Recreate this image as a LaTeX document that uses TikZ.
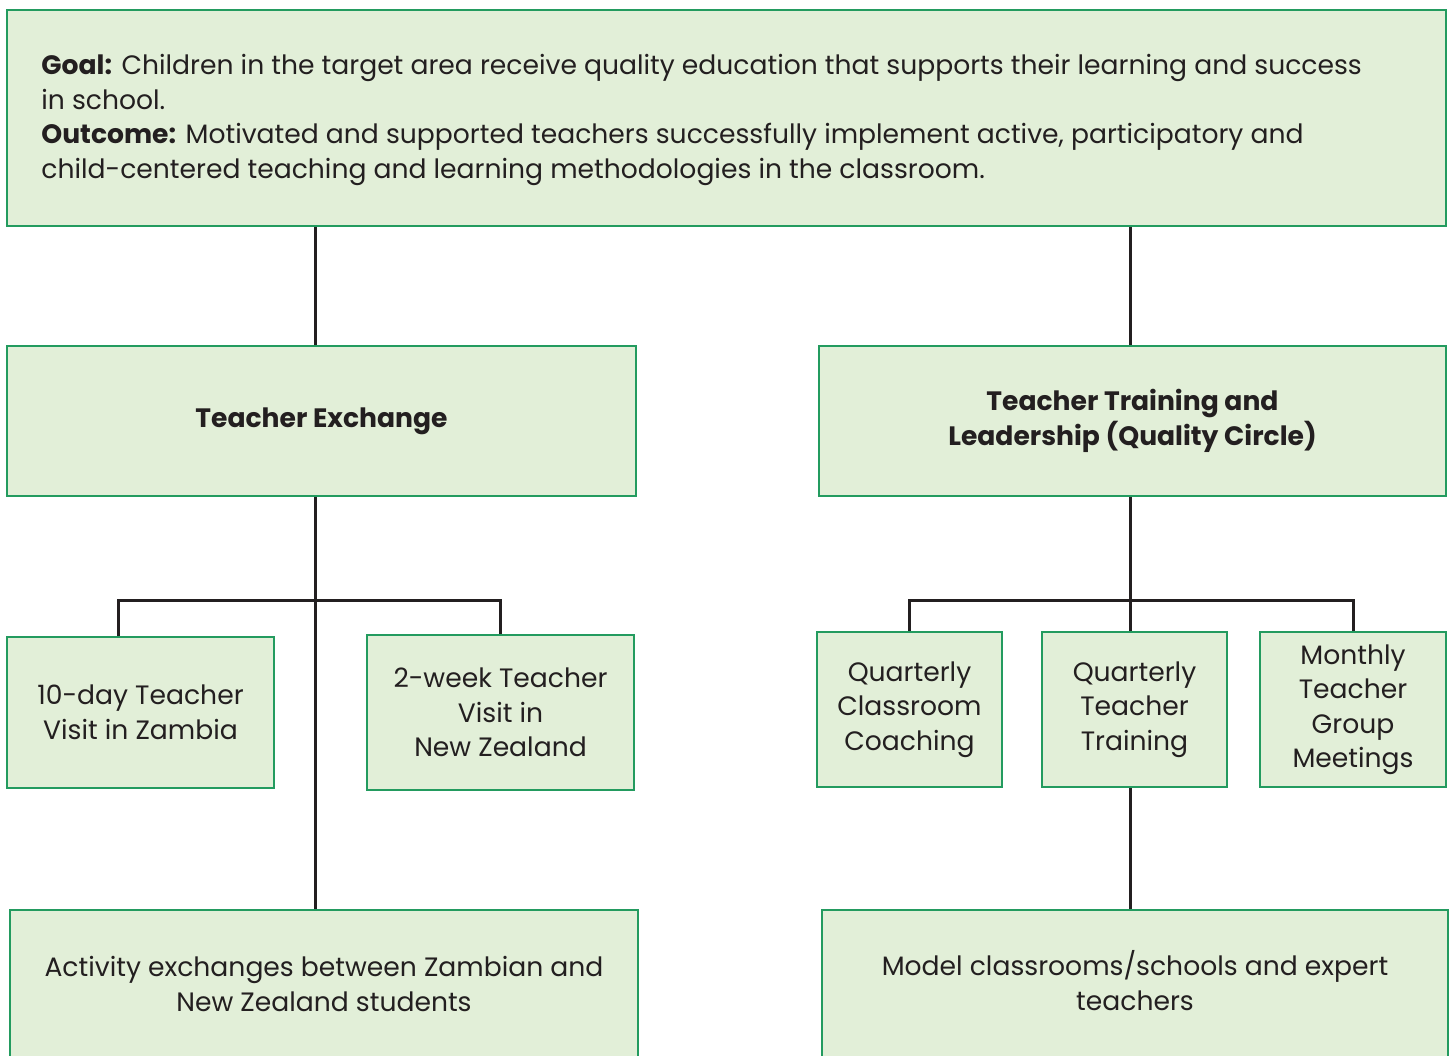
\documentclass[tikz,border=0pt]{standalone}
\usepackage{fontspec}
\setmainfont{Poppins}
\usepackage{tikz}
\usetikzlibrary{positioning}
\definecolor{boxgreen}{RGB}{35,155,95}
\definecolor{boxfill}{RGB}{226,239,216}
\definecolor{linkblack}{RGB}{35,31,32}

\begin{document}
\begin{tikzpicture}[y=-0.5pt,x=0.5pt,
	box/.style={draw=boxgreen, fill=boxfill, line width=1pt, inner sep=0pt, align=center, text=linkblack,
		font=\fontsize{13.3}{17.25}\selectfont},
	link/.style={draw=linkblack, line width=1.5pt, line join=miter}]
	\useasboundingbox (0,0) rectangle (1450,1055);

	% boxes
	\node[box, minimum width=719.5pt, minimum height=108pt] (goal) at (726.5,118) {};
	\node[anchor=west, align=left, inner sep=0pt, text=linkblack, font=\fontsize{13.3}{17.25}\selectfont] (goaltext) at (41,120)
		{\textbf{Goal:} Children in the target area receive quality education that supports their learning and success\\
		in school.\\
		\textbf{Outcome:} Motivated and supported teachers successfully implement active, participatory and\\
		child-centered teaching and learning methodologies in the classroom.};

	\node[box, minimum width=314.5pt, minimum height=75pt] (te) at (321.5,421) {\textbf{Teacher Exchange}};
	\node[box, minimum width=313.5pt, minimum height=75pt] (ttl) at (1132.5,421) {\textbf{Teacher Training and}\\\textbf{Leadership (Quality Circle)}};

	\node[box, minimum width=133.5pt, minimum height=75.5pt] (zam) at (140.5,712.5) {10-day Teacher\\Visit in Zambia};
	\node[box, minimum width=133.5pt, minimum height=77.5pt] (wk) at (500.5,712.5) {2-week Teacher\\Visit in\\New Zealand};
	\node[box, minimum width=92.5pt, minimum height=77.5pt] (qcc) at (909.5,709.5) {Quarterly\\Classroom\\Coaching};
	\node[box, minimum width=92.5pt, minimum height=77.5pt] (qtt) at (1134.5,709.5) {Quarterly\\Teacher\\Training};
	\node[box, minimum width=93pt, minimum height=77.5pt] (mtg) at (1353,709.5) {Monthly\\Teacher\\Group\\Meetings};

	\node[box, minimum width=314pt, minimum height=74pt] (act) at (324,984) {Activity exchanges between Zambian and\\New Zealand students};
	\node[box, minimum width=313pt, minimum height=74pt] (mod) at (1135,984) {Model classrooms/schools and expert\\teachers\vphantom{g}};

	% connectors
	\coordinate (lx) at (315,0);
	\coordinate (rx) at (1130,0);
	\coordinate (zx) at (118,0);
	\coordinate (lbar) at (315,600);
	\coordinate (rbar) at (1130,600);

	\draw[link] (lx |- goal.south) -- (lx |- te.north);
	\draw[link] (lx |- te.south) -- (lx |- act.north);
	\draw[link] (zx |- zam.north) |- (lbar) -| (wk.north);

	\draw[link] (rx |- goal.south) -- (rx |- ttl.north);
	\draw[link] (rx |- ttl.south) -- (rx |- qtt.north);
	\draw[link] (qcc.north) |- (rbar) -| (mtg.north);
	\draw[link] (rx |- qtt.south) -- (rx |- mod.north);
\end{tikzpicture}
\end{document}
